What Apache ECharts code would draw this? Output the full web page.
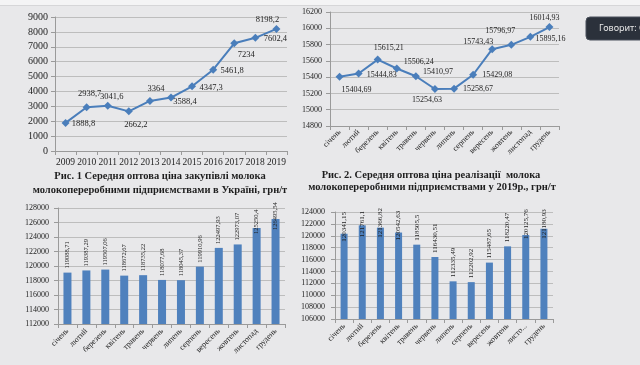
<!DOCTYPE html>
<html><head><meta charset="utf-8">
<script src="https://cdn.jsdelivr.net/npm/echarts@6/dist/echarts.min.js"></script>
<style>html,body{margin:0;padding:0;background:#e8e8ea;}#c{width:640px;height:365px;}</style>
</head><body><div id="c"></div><script>
// ---------- DATA ----------
const years = ['2009','2010','2011','2012','2013','2014','2015','2016','2017','2018','2019'];
const purchasePriceYearly = [1888.8, 2938.7, 3041.6, 2662.2, 3364, 3588.4, 4347.3, 5461.8, 7234, 7602.4, 8198.2];
const months = ['січень','лютий','березень','квітень','травень','червень','липень','серпень','вересень','жовтень','листопад','грудень'];
const monthsShort = ['січень','лютий','березень','квітень','травень','червень','липень','серпень','вересень','жовтень','листо...','грудень'];
const salePrice2019 = [15404.69, 15444.83, 15615.21, 15506.24, 15410.97, 15254.63, 15258.67, 15429.08, 15743.43, 15796.97, 15895.16, 16014.93];
const purchaseMonthly = [119088.71, 119387.29, 119507.06, 118672.67, 118735.22, 118077.68, 118045.37, 119910.96, 122497.93, 122973.07, 125250.4, 126495.54];
const saleMonthly = [120341.15, 121761.1, 121366.82, 120542.63, 118505.5, 116430.51, 112335.49, 112202.92, 115487.65, 118220.47, 120125.76, 121180.93];
const caption1 = ['Рис. 1 Середня оптова ціна закупівлі молока', 'молокопереробними підприємствами в Україні, грн/т'];
const caption2 = ['Рис. 2. Середня оптова ціна реалізації  молока', 'молокопереробними підприємствами у 2019р., грн/т'];
const tooltipText = 'Говорит: С';

// ---------- LAYOUT / STYLE ----------
const serif = 'Liberation Serif';
const txt = '#1e1e1e';
const blue = '#4a7ebb';
const barBlue = '#4f81bd';
const gridC = '#bdbdbd';
const axisC = '#9a9a9a';
const labelOff1 = [[18,1],[3,-13],[4,-9],[7,13],[6,-12],[14,4],[19,1],[19,1],[12,11],[20,1],[-9,-9]];
const labelOff2 = [[17,13],[23,1],[11,-12],[22,-7],[22,-4],[-8,11],[24,0],[24,0],[-14,-7],[-11,-14],[20,2],[-5,-9]];
const barDist3 = [4,4,4,4,4,4,4,4,4,4,-6,-11];
const barDist4 = [-8,-12,-10,-8,4,4,4,4,4,4,-4,-10];
const fmt = v => String(v).replace('.', ',');

function xAx(gi, data, fs, rot, margin) {
  return { type:'category', gridIndex:gi, data:data, boundaryGap:true,
    axisLine:{lineStyle:{color:axisC}}, axisTick:{show:true, length:4, lineStyle:{color:axisC}},
    axisLabel:{fontFamily:serif, fontSize:fs, color:txt, rotate:rot, margin:margin, interval:0} };
}
function yAx(gi, min, max, itv, fs, margin) {
  return { type:'value', gridIndex:gi, min:min, max:max, interval:itv,
    axisLine:{show:true, lineStyle:{color:axisC}}, axisTick:{show:true, length:4, lineStyle:{color:axisC}},
    splitLine:{lineStyle:{color:gridC}},
    axisLabel:{fontFamily:serif, fontSize:fs, color:txt, margin:margin, formatter:v=>String(v)} };
}

const line1Data = purchasePriceYearly.map((v,i)=>({value:v, label:{offset:labelOff1[i]}}));
const line2Data = salePrice2019.map((v,i)=>({value:v, label:{offset:labelOff2[i]}}));
const bar3Data = purchaseMonthly.map((v,i)=>({value:v, label:{distance:barDist3[i]}}));
const bar4Data = saleMonthly.map((v,i)=>({value:v, label:{distance:barDist4[i]}}));

const capStyle = {fontFamily:serif, fontWeight:'bold', fontSize:10.5, color:txt};

const option = {
  animation:false,
  backgroundColor:'#e8e8ea',
  title:[
    {text:caption1[0], left:160, top:171, textAlign:'center', textStyle:capStyle, padding:0},
    {text:caption1[1], left:160, top:185, textAlign:'center', textStyle:capStyle, padding:0},
    {text:caption2[0], left:431, top:170, textAlign:'center', textStyle:capStyle, padding:0},
    {text:caption2[1], left:432, top:182, textAlign:'center', textStyle:capStyle, padding:0}
  ],
  grid:[
    {left:55, top:17, width:232, height:134, outerBoundsMode:'none'},
    {left:330, top:12, width:229, height:114, outerBoundsMode:'none'},
    {left:58, top:208, width:227, height:116, outerBoundsMode:'none'},
    {left:335, top:212, width:218, height:107, outerBoundsMode:'none'}
  ],
  xAxis:[
    xAx(0, years, 9.5, 0, 6),
    xAx(1, months, 8, 45, 5),
    xAx(2, months, 8, 45, 6),
    xAx(3, monthsShort, 8, 45, 6)
  ],
  yAxis:[
    yAx(0, 0, 9000, 1000, 10, 7),
    yAx(1, 14800, 16200, 200, 8, 8),
    yAx(2, 112000, 128000, 2000, 8, 9),
    yAx(3, 106000, 124000, 2000, 8, 10)
  ],
  series:[
    {type:'line', xAxisIndex:0, yAxisIndex:0, data:line1Data, symbol:'diamond', symbolSize:8,
      lineStyle:{color:blue, width:2}, itemStyle:{color:blue},
      label:{show:true, position:'inside', fontFamily:serif, fontSize:8.5, color:txt, formatter:p=>fmt(p.value)}},
    {type:'line', xAxisIndex:1, yAxisIndex:1, data:line2Data, symbol:'diamond', symbolSize:8,
      lineStyle:{color:blue, width:2}, itemStyle:{color:blue},
      label:{show:true, position:'inside', fontFamily:serif, fontSize:8, color:txt, formatter:p=>fmt(p.value)}},
    {type:'bar', xAxisIndex:2, yAxisIndex:2, data:bar3Data, barWidth:8, itemStyle:{color:barBlue},
      label:{show:true, position:'top', rotate:90, align:'left', verticalAlign:'middle', fontFamily:serif, fontSize:6.5, color:txt, formatter:p=>fmt(p.value)}},
    {type:'bar', xAxisIndex:3, yAxisIndex:3, data:bar4Data, barWidth:7, itemStyle:{color:barBlue},
      label:{show:true, position:'top', rotate:90, align:'left', verticalAlign:'middle', fontFamily:serif, fontSize:7, color:txt, formatter:p=>fmt(p.value)}}
  ],
  graphic:[
    {type:'rect', shape:{x:0,y:0,width:640,height:5}, style:{fill:'#f4f4f5', stroke:null}, silent:true},
    {type:'line', shape:{x1:0,y1:5.5,x2:640,y2:5.5}, style:{stroke:'#d6d6d8', lineWidth:1}, silent:true},
    {type:'rect', shape:{x:586,y:17,width:70,height:23,r:4}, style:{fill:'#2b313b', stroke:'#4a515c', lineWidth:1}, silent:true},
    {type:'text', x:599, y:28.5, style:{text:tooltipText, fill:'#e6e6e6', font:'9px "Noto Sans"', verticalAlign:'middle'}, silent:true}
  ]
};
const chart = echarts.init(document.getElementById('c'), null, {renderer:'canvas'});
chart.setOption(option);
</script></body></html>
